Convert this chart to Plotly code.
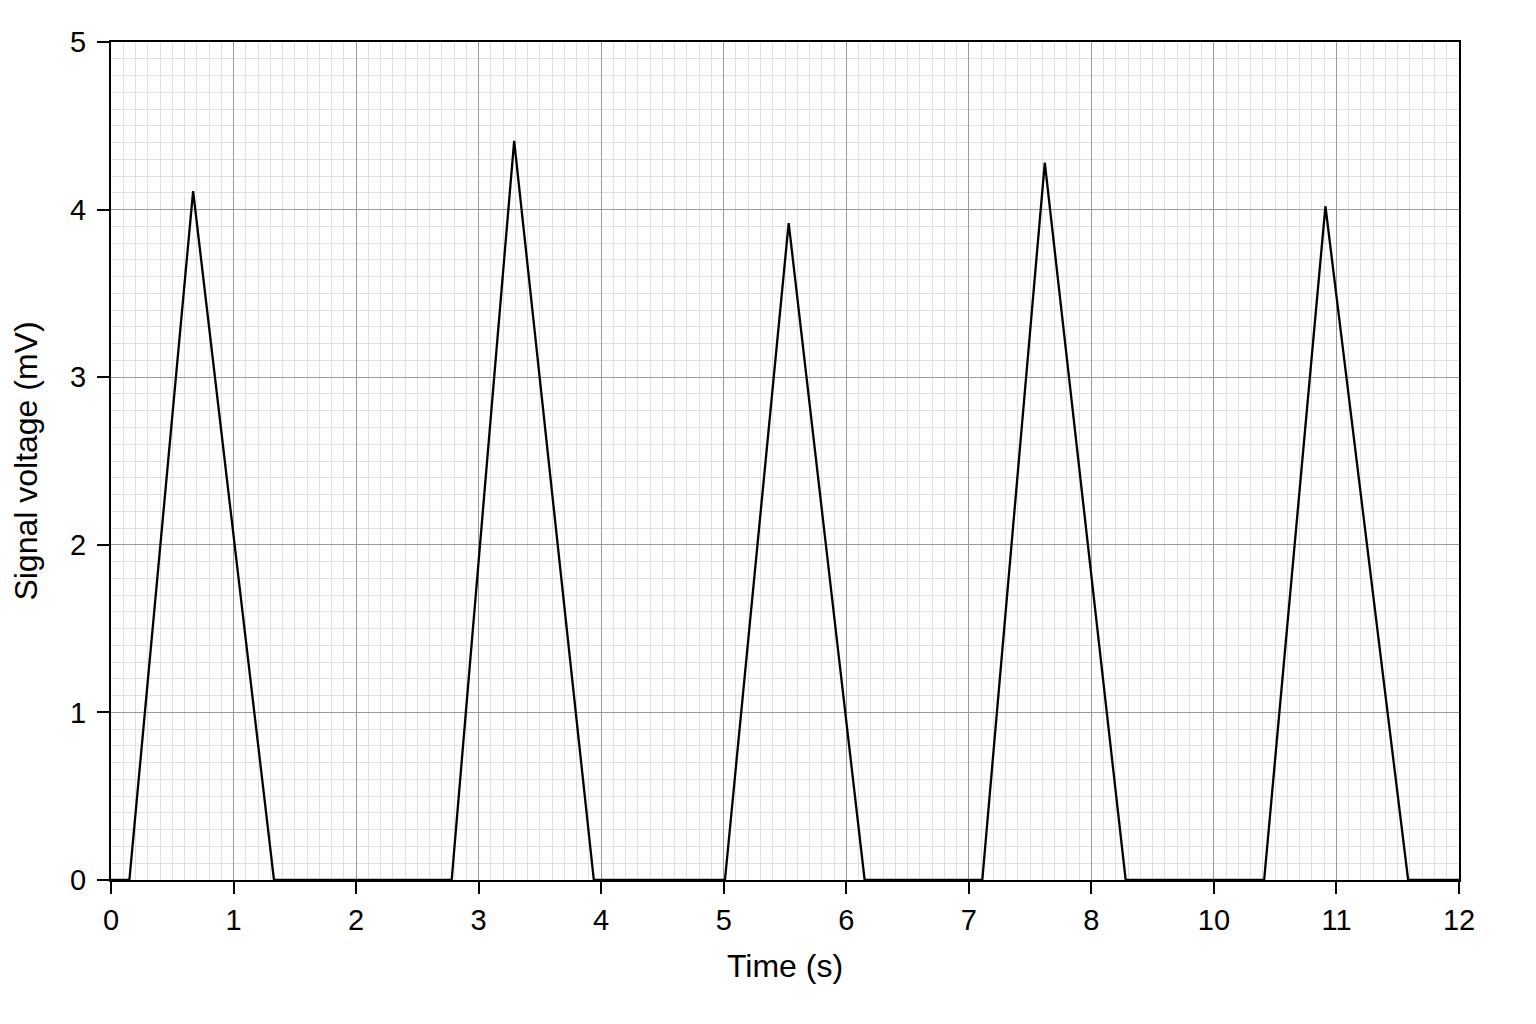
import plotly.graph_objects as go

# Signal trace (x in axis units, y in mV)
time_s = [0, 0.15, 0.67, 1.33, 2.78, 3.29, 3.94, 5.01, 5.53, 6.15,
          7.11, 7.62, 8.28, 9.41, 9.91, 10.585, 11]
voltage_mv = [0, 0, 4.11, 0, 0, 4.41, 0, 0, 3.92, 0,
              0, 4.28, 0, 0, 4.02, 0, 0]

# Tick labels as printed on the original (note: no "9")
x_tickvals = list(range(12))
x_ticktext = ["0", "1", "2", "3", "4", "5", "6", "7", "8", "10", "11", "12"]
y_tickvals = [0, 1, 2, 3, 4, 5]

fig = go.Figure()

fig.add_trace(
    go.Scatter(
        x=time_s,
        y=voltage_mv,
        mode="lines",
        line=dict(color="black", width=2.3),
        showlegend=False,
    )
)

axis_common = dict(
    showline=True,
    linecolor="black",
    linewidth=2,
    mirror=True,
    ticks="outside",
    ticklen=12,
    tickwidth=2,
    tickcolor="black",
    showgrid=True,
    gridcolor="#9a9a9a",
    gridwidth=1.2,
    zeroline=False,
    tickfont=dict(size=29, color="black"),
    minor=dict(showgrid=True, gridcolor="#e0e0e0", gridwidth=1),
)

fig.update_xaxes(
    **axis_common,
    range=[0, 11],
    tickmode="array",
    tickvals=x_tickvals,
    ticktext=x_ticktext,
    ticklabelstandoff=1,
    title=dict(text="Time (s)", font=dict(size=32, color="black"), standoff=20),
)
fig.update_xaxes(minor_dtick=0.1)

fig.update_yaxes(
    **axis_common,
    range=[0, 5],
    tickmode="array",
    tickvals=y_tickvals,
    ticklabelstandoff=5,
    title=dict(text="Signal voltage (mV)", font=dict(size=32, color="black"), standoff=24),
)
fig.update_yaxes(minor_dtick=0.1)

# page body adds an 8px offset, so margins are trimmed on the top/left
fig.update_layout(
    width=1536,
    height=1024,
    margin=dict(l=103, r=85, t=34, b=152),
    paper_bgcolor="white",
    plot_bgcolor="white",
    font=dict(family="Liberation Sans, Arial, sans-serif", color="black"),
)

fig.write_html("out.html")
